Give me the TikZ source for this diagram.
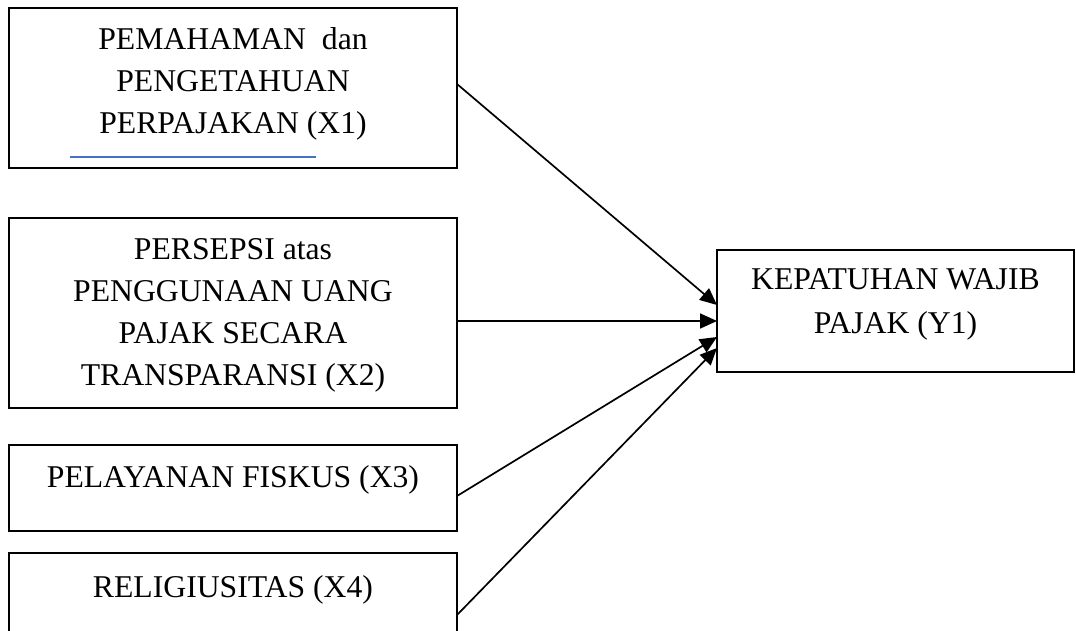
\documentclass[tikz,border=0pt]{standalone}
\usepackage{fontspec}
\setmainfont{Liberation Serif}
\usepackage{tikz}
\usetikzlibrary{positioning, arrows.meta}
\definecolor{markblue}{RGB}{68,114,196}

\begin{document}
\begin{tikzpicture}[x=1pt, y=-1pt, node distance=40pt]
    % Styles
    \tikzstyle{varbox} = [rectangle, draw=black, line width=2pt, inner sep=0pt,
        outer sep=0pt, minimum width=448pt]
    \tikzstyle{vartext} = [inner sep=0pt, anchor=north, align=center,
        font=\fontsize{31.7}{42}\selectfont]
    \tikzstyle{arrow} = [line width=1.7pt, -{Triangle[length=17pt, width=15pt]}]

    \useasboundingbox (0,0) rectangle (1076,631);

    % Independent variables (left column)
    \node [varbox, minimum height=160pt, anchor=north west] (x1) at (9,8.5) {};
    \node [varbox, minimum height=189pt, below=50pt of x1] (x2) {};
    \node [varbox, minimum height=86pt, below=37pt of x2] (x3) {};
    \node [varbox, minimum height=86pt, below=22pt of x3] (x4) {};

    % Dependent variable
    \node [varbox, minimum width=357pt, minimum height=122pt, anchor=north west] (y1) at (717,250) {};

    % Texts
    \node [vartext, below=19pt of x1.north] (x1txt) {PEMAHAMAN\ \ dan\\PENGETAHUAN\\PERPAJAKAN (X1)};
    \node [vartext, below=20pt of x2.north] (x2txt) {PERSEPSI atas\\PENGGUNAAN UANG\\PAJAK SECARA\\TRANSPARANSI (X2)};
    \node [vartext, below=20.5pt of x3.north] (x3txt) {PELAYANAN FISKUS (X3)};
    \node [vartext, below=22.5pt of x4.north] (x4txt) {RELIGIUSITAS (X4)};
    \node [vartext, below=18pt of y1.north, font=\fontsize{31.7}{44}\selectfont] (y1txt) {KEPATUHAN WAJIB\\PAJAK (Y1)};

    % stray rule in X1
    \draw [markblue, line width=1.1pt] (70,157) -- (316,157);

    % Arrows
    \draw [arrow] ([yshift=4.5pt]x1.east) -- ([yshift=6pt]y1.west);
    \draw [arrow] ([yshift=-8pt]x2.east) -- ([yshift=-10pt]y1.west);
    \draw [arrow] ([yshift=-8.5pt]x3.east) -- ([yshift=-26pt]y1.west);
    \draw [arrow] ([yshift=-19.5pt]x4.east) -- ([yshift=-37pt]y1.west);
\end{tikzpicture}
\end{document}
